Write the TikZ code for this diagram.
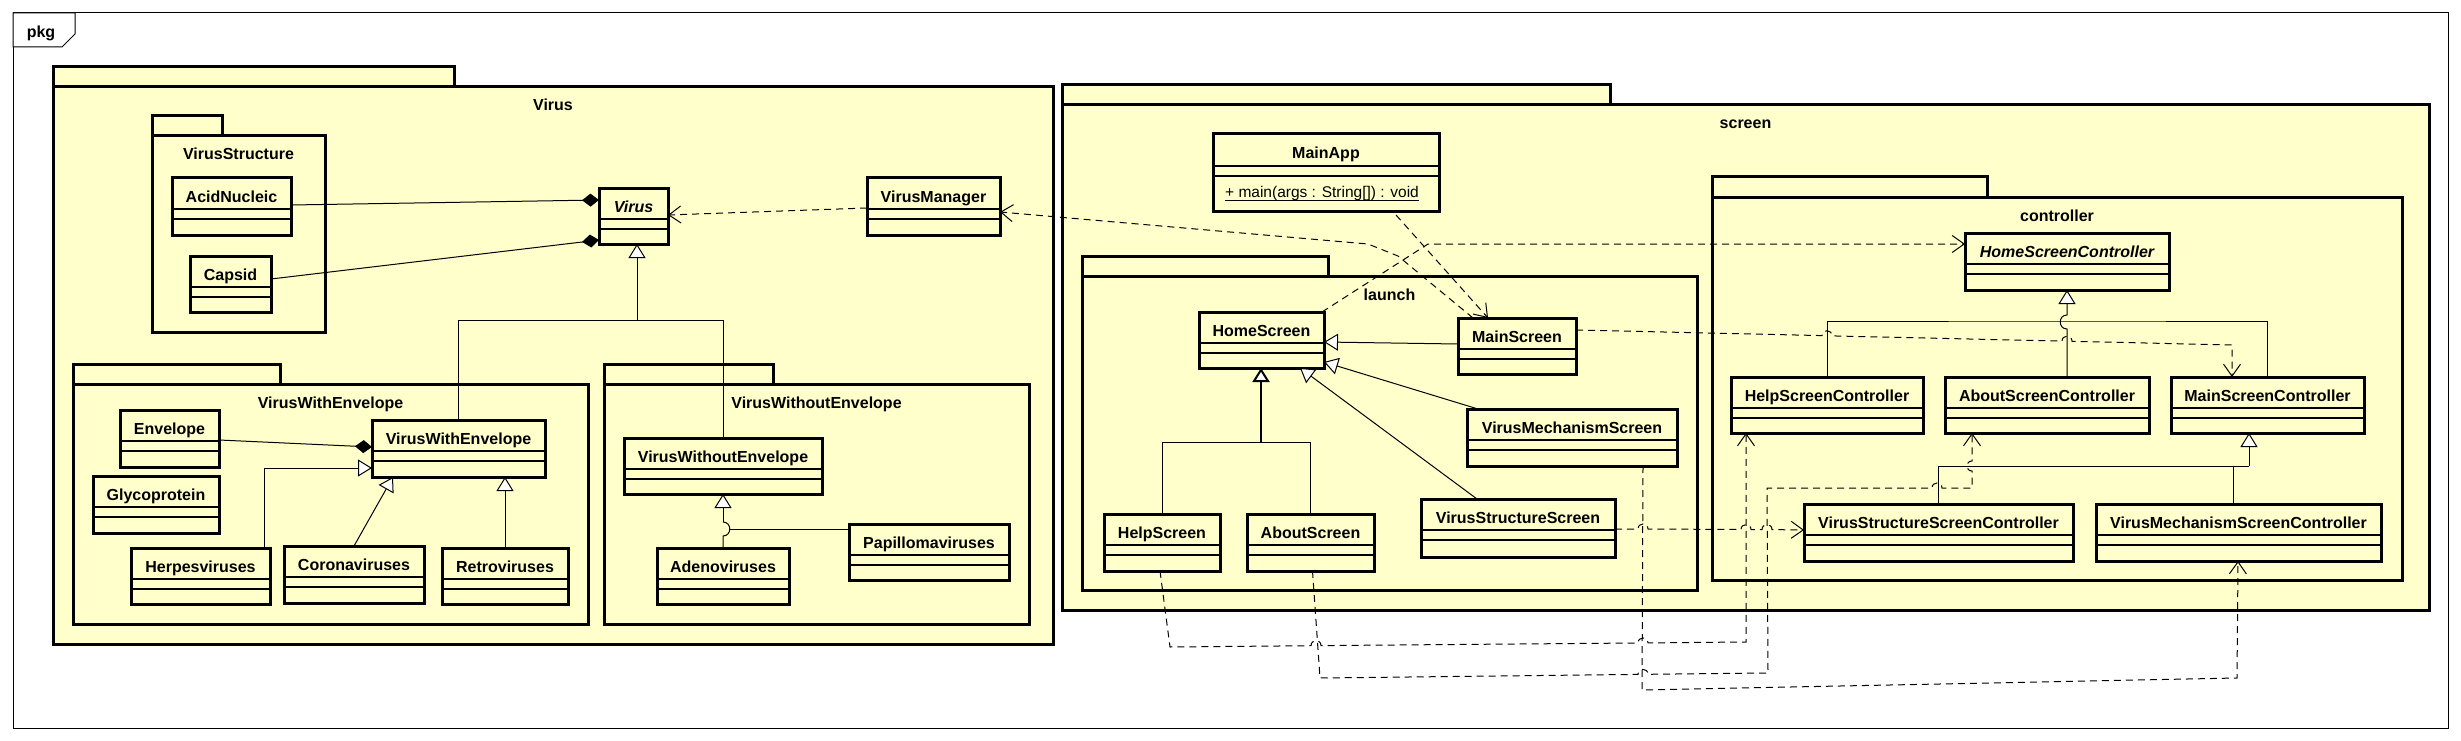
\documentclass[tikz,border=0pt]{standalone}
\usepackage{fontspec}
\setmainfont{Liberation Sans}
\usetikzlibrary{arrows.meta,calc}
\definecolor{pkgfill}{RGB}{255,255,204}
\tikzset{
  clsbox/.style={draw, line width=3pt, fill=pkgfill, rectangle, inner sep=0pt, outer sep=0pt, anchor=north west},
  divl/.style={line width=1.2pt},
  nm/.style={font=\fontsize{16}{19}\selectfont\bfseries, anchor=base, inner sep=0pt},
  opn/.style={font=\fontsize{15.5}{18}\selectfont, anchor=base, inner sep=0pt},
  pk/.style={draw, line width=3pt, fill=pkgfill},
  conn/.style={line width=1pt},
  gen/.style={conn, -{Triangle[length=14pt,width=17pt,fill=white]}},
  comp/.style={conn, {Diamond[length=17pt,width=13pt]}-},
  dep/.style={conn, dash pattern=on 7pt off 5pt, -{Straight Barb[length=12pt,width=17pt]}},
}
\newcommand{\ucls}[7]{%
  \node[clsbox, minimum width={(#4)-(#2)}, minimum height={(#5)-(#3)}] (#1) at (#2,#3) {};
  \draw[divl] ($(#1.north west)+(0,31)$) -- ($(#1.north east)+(0,31)$);
  \draw[divl] ($(#1.north west)+(0,41)$) -- ($(#1.north east)+(0,41)$);
  \node[nm] (#1-t) at ($(#1.north)+(0,24)$) {#7#6};
}
\newcommand{\upkg}[8]{%
  \draw[pk] (#2,#3) rectangle (#4,#5);
  \draw[pk] (#2,#5) rectangle (#6,#7);
  \node[nm] (#1) at ({(#2+#6)/2},{#5+24}) {#8};
}
\begin{document}
\begin{tikzpicture}[x=1pt,y=-1pt]
\useasboundingbox (0,0) rectangle (2461,741);
\fill[white] (0,0) rectangle (2461,741);
% outer frame
\draw[line width=1pt] (13,13) rectangle (2448,728);
\draw[line width=1pt, fill=white] (13,13) -- (75,13) -- (75,34) -- (62,47) -- (13,47) -- cycle;
\node[nm] (pkgl) at (41,38) {pkg};
% packages
\upkg{pVirus}{53}{67}{454}{87}{1053}{644}{Virus}
\upkg{pVS}{152}{116}{222}{136}{325}{332}{VirusStructure}
\upkg{pVWE}{73}{364}{280}{384}{588}{624}{VirusWithEnvelope}
\upkg{pVWoE}{604}{364}{773}{384}{1029}{624}{VirusWithoutEnvelope}
\upkg{pScreen}{1062}{85}{1610}{105}{2429}{610}{screen}
\upkg{pLaunch}{1082}{256}{1328}{276}{1697}{590}{launch}
\upkg{pCtrl}{1712}{177}{1987}{197}{2402}{580}{controller}
% classes
\ucls{AcidNucleic}{172}{178}{291}{235}{AcidNucleic}{}
\ucls{Capsid}{190}{256}{271}{312}{Capsid}{}
\ucls{Virus}{599}{188}{668}{244}{Virus}{\itshape}
\ucls{VirusManager}{867}{178}{1000}{235}{VirusManager}{}
\ucls{Envelope}{120}{410}{219}{467}{Envelope}{}
\ucls{Glycoprotein}{93}{476}{219}{533}{Glycoprotein}{}
\ucls{VWEc}{372}{420}{545}{477}{VirusWithEnvelope}{}
\ucls{Herpes}{131}{548}{270}{604}{Herpesviruses}{}
\ucls{Corona}{284}{546}{424}{603}{Coronaviruses}{}
\ucls{Retro}{442}{548}{568}{604}{Retroviruses}{}
\ucls{VWoEc}{624}{438}{822}{494}{VirusWithoutEnvelope}{}
\ucls{Adeno}{657}{548}{789}{604}{Adenoviruses}{}
\ucls{Papillo}{849}{524}{1009}{580}{Papillomaviruses}{}
\ucls{HomeScreen}{1199}{312}{1324}{368}{HomeScreen}{}
\ucls{MainScreen}{1458}{318}{1576}{374}{MainScreen}{}
\ucls{VMS}{1467}{409}{1677}{466}{VirusMechanismScreen}{}
\ucls{VSS}{1421}{499}{1615}{557}{VirusStructureScreen}{}
\ucls{HelpScreen}{1104}{514}{1220}{571}{HelpScreen}{}
\ucls{AboutScreen}{1247}{514}{1374}{571}{AboutScreen}{}
\ucls{HSC}{1965}{233}{2169}{290}{HomeScreenController}{\itshape}
\ucls{HelpSC}{1731}{377}{1923}{433}{HelpScreenController}{}
\ucls{AboutSC}{1945}{377}{2149}{433}{AboutScreenController}{}
\ucls{MainSC}{2171}{377}{2364}{433}{MainScreenController}{}
\ucls{VSSC}{1804}{504}{2073}{561}{VirusStructureScreenController}{}
\ucls{VMSC}{2096}{504}{2381}{561}{VirusMechanismScreenController}{}
% MainApp
\node[clsbox, minimum width=226, minimum height=77] (MainApp) at (1213,134) {};
\draw[divl] ($(MainApp.north west)+(0,32)$) -- ($(MainApp.north east)+(0,32)$);
\draw[divl] ($(MainApp.north west)+(0,42)$) -- ($(MainApp.north east)+(0,42)$);
\node[nm] (MainApp-t) at ($(MainApp.north)+(0,24)$) {MainApp};
\node[opn] (MainApp-op) at (1322,197) {+ main(args : String[]) : void};
\draw[line width=1pt] ($(MainApp-op.base west)+(0,3)$) -- ($(MainApp-op.base east)+(0,3)$);
% ---- connectors: Virus package
\draw[comp] ($(Virus.north west)+(0,12)$) -- ($(AcidNucleic.north east)+(0,27)$);
\draw[comp] ($(Virus.north west)+(0,52)$) -- ($(Capsid.north east)+(0,23)$);
\draw[dep] ($(VirusManager.north west)+(0,30)$) -- ($(Virus.north east)+(0,27)$);
\coordinate (vj) at (637,320);
\draw[gen] (VWEc.north) |- (vj) -- (vj |- Virus.south);
\draw[conn] (VWoEc.north) |- (vj);
\draw[comp] ($(VWEc.north west)+(0,27)$) -- ($(Envelope.north east)+(0,30)$);
\draw[gen] ($(Herpes.north east)+(-6,0)$) |- ($(VWEc.north west)+(0,48)$);
\draw[gen] (Corona.north) -- ($(VWEc.south west)+(21,0)$);
\draw[gen] (Retro.north) -- (Retro.north |- VWEc.south);
\draw[conn] (Adeno.north) -- (723,536) .. controls (732,536) and (732,522) .. (723,522);
\draw[gen] (723,522) -- (VWoEc.south);
\draw[conn] ($(Papillo.north west)+(0,5)$) -- (730,529);
% ---- screen package
\draw[dep] ($(MainApp.south west)+(183,4)$) -- ($(MainScreen.north west)+(30,0)$);
\draw[dep] ($(MainScreen.north west)+(15,0)$) -- (1398,256) -- (1368,244) -- ($(VirusManager.north east)+(0,34)$);
\draw[dep] ($(HomeScreen.north east)+(-2,0)$) -- (1428,244) -- ($(HSC.north west)+(0,11)$);
\draw[gen] ($(MainScreen.north west)+(0,26)$) -- ($(HomeScreen.north east)+(0,30)$);
\draw[gen] ($(VMS.north west)+(11,0)$) -- ($(HomeScreen.north east)+(0,50)$);
\draw[gen] ($(VSS.north west)+(56,0)$) -- ($(HomeScreen.south east)+(-24,0)$);
\coordinate (hj) at (1261,442);
\draw[gen, line width=2pt] (hj) -- (hj |- HomeScreen.south);
\draw[conn] (HelpScreen.north) |- (hj);
\draw[conn] (AboutScreen.north) |- (hj);
% MainScreen -> MainScreenController
\draw[dep] ($(MainScreen.north east)+(0,12)$) -- (1822,335.6)
  .. controls (1822,329) and (1832,329.2) .. (1832,335.9) -- (2062,341.1)
  .. controls (2062,334.5) and (2072,334.7) .. (2072,341.3) -- (2232,345)
  -- ($(MainSC.north west)+(61,0)$);
% HelpScreen -> HelpScreenController
\draw[dep] ($(HelpScreen.south)+(-2,0)$) -- (1170,647) -- (1311,645.7)
  .. controls (1311,639) and (1321,639) .. (1321,645.6) -- (1638,643)
  .. controls (1638,636.3) and (1648,636.3) .. (1648,642.9) -- (1746,642)
  -- ($(HelpSC.south west)+(15,0)$);
% AboutScreen -> AboutScreenController
\draw[dep] ($(AboutScreen.south)+(2,0)$) -- (1320,678) -- (1638,674.4)
  .. controls (1638,667.7) and (1648,667.7) .. (1648,674.3) -- (1768,673) -- (1767,488)
  -- (1932,488) .. controls (1932,481.3) and (1942,481.3) .. (1942,488) -- (1972,488)
  -- (1972,471) .. controls (1965.3,471) and (1965.3,461) .. (1972,461)
  -- ($(AboutSC.south west)+(27,0)$);
% VirusMechanismScreen -> VirusMechanismScreenController
\draw[dep] ($(VMS.south west)+(176,0)$) -- (1642,690) -- (2237,678) -- ($(VMSC.south west)+(142,0)$);
% VirusStructureScreen -> VirusStructureScreenController
\draw[dep] ($(VSS.north east)+(0,30)$) -- (1638,529)
  .. controls (1638,522.3) and (1648,522.3) .. (1648,529) -- (1741,529.5)
  .. controls (1741,523) and (1751,523) .. (1751,529.5) -- (1762,529.6)
  .. controls (1762,523) and (1772,523) .. (1772,529.6)
  -- ($(VSSC.north west)+(0,26)$);
% ---- controller generalizations
\coordinate (cj) at (2067,321);
\draw[gen] ($(AboutSC.north west)+(122,0)$) -- (2067,329) .. controls (2058,329) and (2058,315) .. (2067,315) -- (HSC.south);
\draw[conn] (HelpSC.north) |- (cj) -| (MainSC.north);
\coordinate (mj) at (2249,466);
\draw[gen] (mj) -- (mj |- MainSC.south);
\draw[conn] (VSSC.north) |- (mj);
\draw[conn] ($(VMSC.north west)+(137,0)$) -- ($(VMSC.north west)+(137,-38)$);
\end{tikzpicture}
\end{document}
